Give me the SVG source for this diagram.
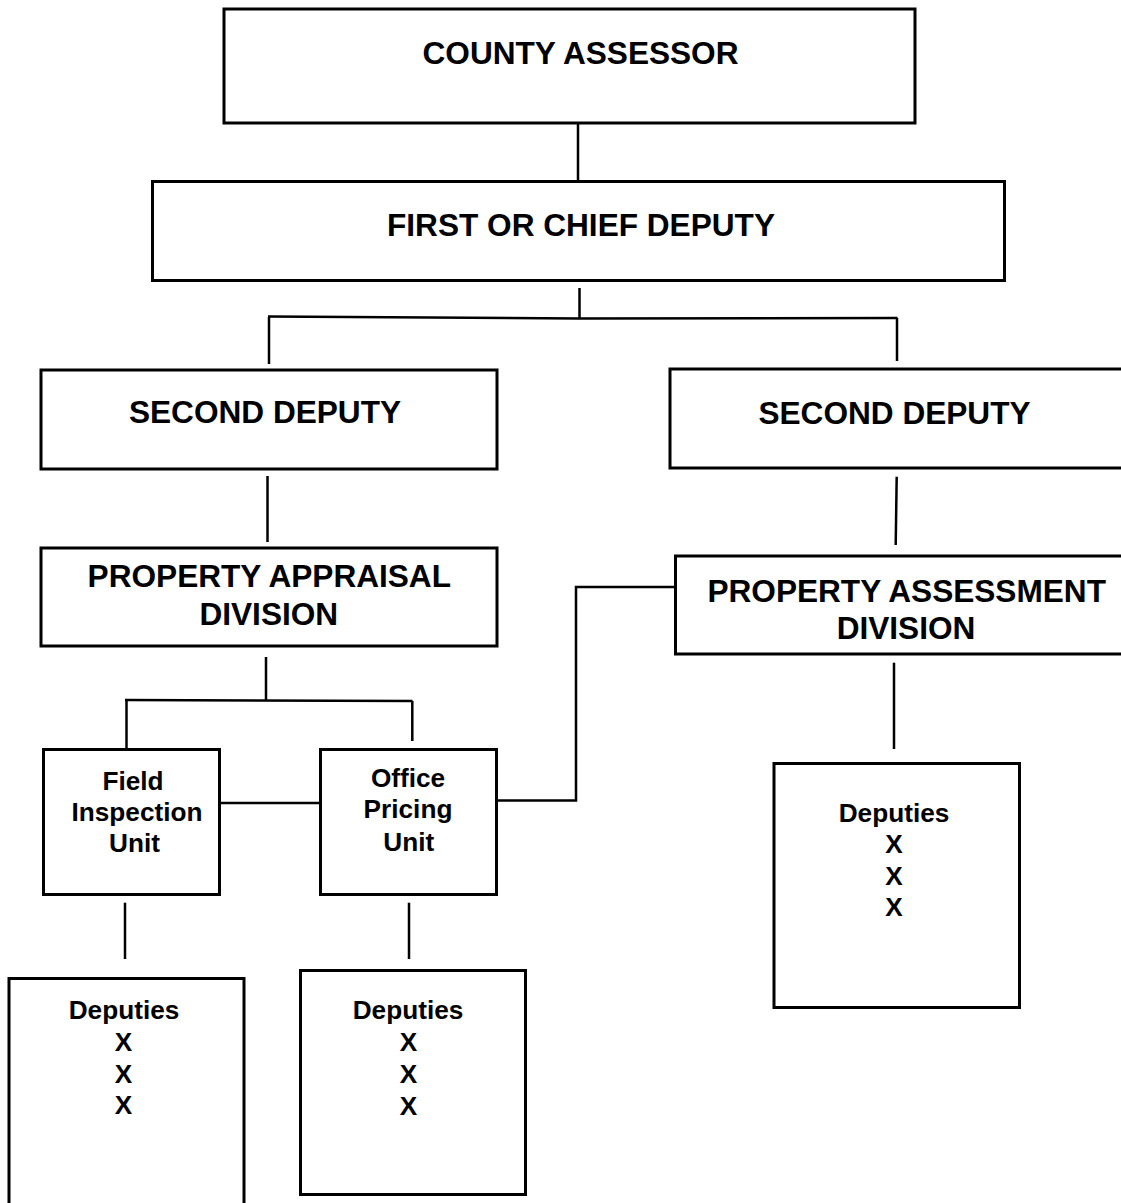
<svg xmlns="http://www.w3.org/2000/svg" width="1121" height="1203" viewBox="0 0 1121 1203">
<style>
.box{fill:#fff;stroke:#000;stroke-width:3}
.ln{fill:none;stroke:#000;stroke-width:2.5}
.t{font-family:"Liberation Sans",Arial,sans-serif;font-weight:bold;fill:#000;text-anchor:middle}
.big{font-size:31.6px}
.sm{font-size:26.2px}
</style>
<rect x="0" y="0" width="1121" height="1203" fill="#fff"/>
<g id="connectors">
<path class="ln" d="M578 124 V180"/>
<path class="ln" d="M579.5 288 V318"/>
<path class="ln" d="M268 316.5 L579 318.5 L897.5 318"/>
<path class="ln" d="M269 317 V364"/>
<path class="ln" d="M897 318 V361"/>
<path class="ln" d="M267.5 476 V542"/>
<path class="ln" d="M896.7 476.7 L895.7 545"/>
<path class="ln" d="M266 657 V701"/>
<path class="ln" d="M125 700 L412.5 701"/>
<path class="ln" d="M126.5 700 V748"/>
<path class="ln" d="M412.3 701 V741"/>
<path class="ln" d="M220 803 H319"/>
<path class="ln" d="M498 800.5 H576 V587 H674"/>
<path class="ln" d="M125 902.7 V959"/>
<path class="ln" d="M409 902.7 V959"/>
<path class="ln" d="M894 662.7 V749"/>
</g>
<g id="county-assessor">
<rect class="box" x="224" y="9" width="691" height="114"/>
<text class="t big" x="580.5" y="64.3">COUNTY ASSESSOR</text>
</g>
<g id="first-deputy">
<rect class="box" x="152.5" y="181.5" width="852" height="99"/>
<text class="t big" x="581" y="236">FIRST OR CHIEF DEPUTY</text>
</g>
<g id="second-deputy-left">
<rect class="box" x="41" y="370" width="456" height="99"/>
<text class="t big" x="265" y="422.7">SECOND DEPUTY</text>
</g>
<g id="second-deputy-right">
<rect class="box" x="670" y="369" width="470" height="99"/>
<text class="t big" x="894.5" y="424">SECOND DEPUTY</text>
</g>
<g id="property-appraisal">
<rect class="box" x="41" y="548" width="456" height="98"/>
<text class="t big" x="269.3" y="586.7">PROPERTY APPRAISAL</text>
<text class="t big" x="268.8" y="625">DIVISION</text>
</g>
<g id="property-assessment">
<rect class="box" x="675.5" y="556" width="470" height="98"/>
<text class="t big" x="906.7" y="601.7">PROPERTY ASSESSMENT</text>
<text class="t big" x="906" y="639">DIVISION</text>
</g>
<g id="field-inspection">
<rect class="box" x="43.5" y="749.5" width="176" height="145"/>
<text class="t sm" x="133" y="790">Field</text>
<text class="t sm" x="137" y="821">Inspection</text>
<text class="t sm" x="134.5" y="851.7">Unit</text>
</g>
<g id="office-pricing">
<rect class="box" x="320.5" y="749.5" width="176" height="145"/>
<text class="t sm" x="408" y="786.7">Office</text>
<text class="t sm" x="408" y="818.3">Pricing</text>
<text class="t sm" x="408.7" y="850.7">Unit</text>
</g>
<g id="deputies-field">
<rect class="box" x="9" y="978.5" width="235" height="240"/>
<text class="t sm" x="124" y="1019.3">Deputies</text>
<text class="t sm" x="123.5" y="1050.7">X</text>
<text class="t sm" x="123.5" y="1082.7">X</text>
<text class="t sm" x="123.5" y="1114">X</text>
</g>
<g id="deputies-office">
<rect class="box" x="300.5" y="970.5" width="225" height="224"/>
<text class="t sm" x="408" y="1019.3">Deputies</text>
<text class="t sm" x="408.6" y="1051">X</text>
<text class="t sm" x="408.6" y="1083">X</text>
<text class="t sm" x="408.6" y="1114.5">X</text>
</g>
<g id="deputies-assessment">
<rect class="box" x="774" y="763.5" width="245.5" height="244"/>
<text class="t sm" x="894" y="821.7">Deputies</text>
<text class="t sm" x="894" y="853.3">X</text>
<text class="t sm" x="894" y="884.5">X</text>
<text class="t sm" x="894" y="916">X</text>
</g>
</svg>
